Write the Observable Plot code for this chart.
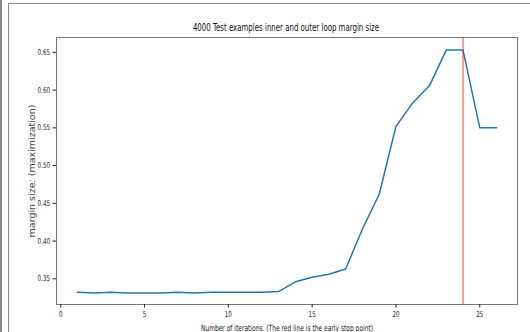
<!DOCTYPE html>
<html><head><meta charset="utf-8">
<script src="https://cdn.jsdelivr.net/npm/d3@7"></script>
<script src="https://cdn.jsdelivr.net/npm/@observablehq/plot@0.6"></script>
<style>
html,body{margin:0;padding:0;background:#fff;width:530px;height:332px;overflow:hidden;}
#bar{position:absolute;left:0;top:0;width:2px;height:332px;background:#8c8c8c;}
#frame{position:absolute;left:8px;top:3px;width:540px;height:340px;border-top:1.5px solid #8c8c8c;border-left:1.5px solid #8c8c8c;}
#title{position:absolute;top:22px;left:0;width:572px;text-align:center;font-family:"DejaVu Sans",sans-serif;font-size:10px;color:#111;transform:scaleX(0.7);transform-origin:286px 0;}
#chart{position:absolute;left:0;top:0;}
</style></head><body>
<div id="bar"></div><div id="frame"></div>
<div id="title">4000 Test examples inner and outer loop margin size</div>
<div id="chart"></div>
<script>
const iterations = [1,2,3,4,5,6,7,8,9,10,11,12,13,14,15,16,17,18,19,20,21,22,23,24,25,26];
const margins = [0.332,0.331,0.332,0.331,0.331,0.331,0.332,0.331,0.332,0.332,0.332,0.332,0.333,0.346,0.352,0.356,0.363,0.416,0.462,0.552,0.583,0.606,0.653,0.653,0.550,0.550];
const earlyStop = [24];
const xTicks = [0,5,10,15,20,25];
const yTicks = [0.35,0.40,0.45,0.50,0.55,0.60,0.65];
const data = iterations.map((x,i)=>({x, y: margins[i]}));
const plot = Plot.plot({
  width: 530, height: 332,
  marginLeft: 56, marginTop: 37, marginRight: 13, marginBottom: 28,
  style: {fontFamily: "DejaVu Sans, sans-serif", fontSize: "8px", color: "#222", background: "transparent", overflow: "visible"},
  x: {domain: [-0.25, 27.25]},
  y: {domain: [0.3159, 0.6697]},
  marks: [
    Plot.frame({stroke: "#777", strokeWidth: 1}),
    Plot.axisX({ticks: xTicks, tickFormat: d => String(d), tickSize: 3.5, tickPadding: 3, label: null}),
    Plot.axisY({ticks: yTicks, tickFormat: d => d.toFixed(2), tickSize: 3.5, tickPadding: 3, label: null}),
    Plot.text(["Number of iterations. (The red line is the early stop point)"], {frameAnchor: "bottom", dy: 26, text: d => d, fontSize: 8.5, fill: "#222", className: "condensed"}),
    Plot.text(["margin size: (maximization)"], {frameAnchor: "left", textAnchor: "middle", dx: -25, rotate: -90, text: d => d, fontSize: 9.5, fill: "#444"}),
    Plot.line(data, {x: "x", y: "y", stroke: "#1f77b4", strokeWidth: 1.5}),
    Plot.ruleX(earlyStop, {stroke: "red", strokeOpacity: 0.5, strokeWidth: 1.5})
  ]
});
// matplotlib output was horizontally squeezed: condense the horizontal texts about their anchors
plot.querySelectorAll("g[aria-label='x-axis tick label'] text, g[aria-label='y-axis tick label'] text, g.condensed text").forEach(t => {
  const tr = t.getAttribute("transform") || "";
  t.setAttribute("transform", tr + " scale(0.7,1)");
});
document.getElementById("chart").appendChild(plot);
</script></body></html>
